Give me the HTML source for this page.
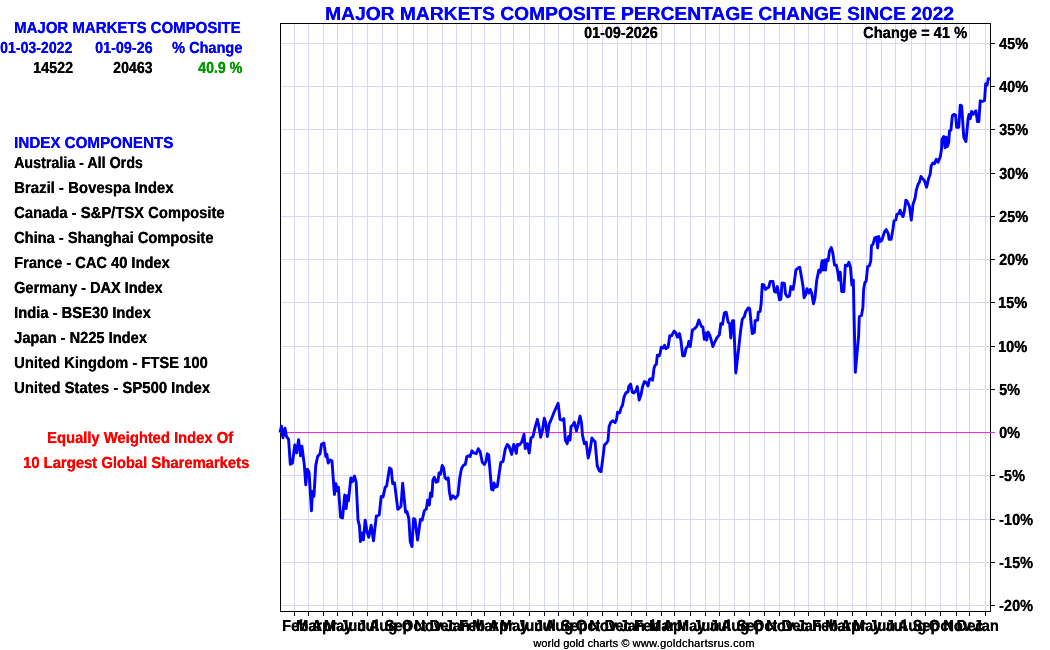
<!DOCTYPE html>
<html lang="en"><head><meta charset="utf-8"><title>Major Markets Composite Percentage Change Since 2022</title>
<style>
html,body{margin:0;padding:0;background:#fff;}
body{width:1050px;height:650px;position:relative;overflow:hidden;font-family:"Liberation Sans",sans-serif;font-weight:bold;color:#000;}
.t{position:absolute;white-space:pre;line-height:1;transform-origin:0 0;text-shadow:0.3px 0 0 currentColor;}
.xl{position:absolute;top:618.46px;width:60px;margin-left:-30px;text-align:center;font-size:16px;line-height:1;transform:scaleX(0.915) skewX(0.05deg);transform-origin:50% 0;text-shadow:0.3px 0 0 currentColor;}
svg{position:absolute;left:0;top:0;}
</style></head><body>

<svg width="1050" height="650" viewBox="0 0 1050 650">
<g stroke="#D6D6F5" stroke-width="1" shape-rendering="crispEdges">
<line x1="294.5" y1="24" x2="294.5" y2="611"/>
<line x1="308.5" y1="24" x2="308.5" y2="611"/>
<line x1="323.5" y1="24" x2="323.5" y2="611"/>
<line x1="337.5" y1="24" x2="337.5" y2="611"/>
<line x1="352.5" y1="24" x2="352.5" y2="611"/>
<line x1="367.5" y1="24" x2="367.5" y2="611"/>
<line x1="382.5" y1="24" x2="382.5" y2="611"/>
<line x1="397.5" y1="24" x2="397.5" y2="611"/>
<line x1="413.5" y1="24" x2="413.5" y2="611"/>
<line x1="427.5" y1="24" x2="427.5" y2="611"/>
<line x1="442.5" y1="24" x2="442.5" y2="611"/>
<line x1="456.5" y1="24" x2="456.5" y2="611"/>
<line x1="471.5" y1="24" x2="471.5" y2="611"/>
<line x1="484.5" y1="24" x2="484.5" y2="611"/>
<line x1="500.5" y1="24" x2="500.5" y2="611"/>
<line x1="513.5" y1="24" x2="513.5" y2="611"/>
<line x1="529.5" y1="24" x2="529.5" y2="611"/>
<line x1="544.5" y1="24" x2="544.5" y2="611"/>
<line x1="558.5" y1="24" x2="558.5" y2="611"/>
<line x1="573.5" y1="24" x2="573.5" y2="611"/>
<line x1="587.5" y1="24" x2="587.5" y2="611"/>
<line x1="602.5" y1="24" x2="602.5" y2="611"/>
<line x1="617.5" y1="24" x2="617.5" y2="611"/>
<line x1="631.5" y1="24" x2="631.5" y2="611"/>
<line x1="646.5" y1="24" x2="646.5" y2="611"/>
<line x1="661.5" y1="24" x2="661.5" y2="611"/>
<line x1="674.5" y1="24" x2="674.5" y2="611"/>
<line x1="690.5" y1="24" x2="690.5" y2="611"/>
<line x1="705.5" y1="24" x2="705.5" y2="611"/>
<line x1="719.5" y1="24" x2="719.5" y2="611"/>
<line x1="734.5" y1="24" x2="734.5" y2="611"/>
<line x1="749.5" y1="24" x2="749.5" y2="611"/>
<line x1="764.5" y1="24" x2="764.5" y2="611"/>
<line x1="779.5" y1="24" x2="779.5" y2="611"/>
<line x1="794.5" y1="24" x2="794.5" y2="611"/>
<line x1="808.5" y1="24" x2="808.5" y2="611"/>
<line x1="824.5" y1="24" x2="824.5" y2="611"/>
<line x1="837.5" y1="24" x2="837.5" y2="611"/>
<line x1="852.5" y1="24" x2="852.5" y2="611"/>
<line x1="866.5" y1="24" x2="866.5" y2="611"/>
<line x1="881.5" y1="24" x2="881.5" y2="611"/>
<line x1="895.5" y1="24" x2="895.5" y2="611"/>
<line x1="911.5" y1="24" x2="911.5" y2="611"/>
<line x1="925.5" y1="24" x2="925.5" y2="611"/>
<line x1="940.5" y1="24" x2="940.5" y2="611"/>
<line x1="956.5" y1="24" x2="956.5" y2="611"/>
<line x1="969.5" y1="24" x2="969.5" y2="611"/>
<line x1="985.5" y1="24" x2="985.5" y2="611"/>
<line x1="281" y1="605.5" x2="990" y2="605.5"/>
<line x1="281" y1="562.5" x2="990" y2="562.5"/>
<line x1="281" y1="519.5" x2="990" y2="519.5"/>
<line x1="281" y1="475.5" x2="990" y2="475.5"/>
<line x1="281" y1="389.5" x2="990" y2="389.5"/>
<line x1="281" y1="346.5" x2="990" y2="346.5"/>
<line x1="281" y1="302.5" x2="990" y2="302.5"/>
<line x1="281" y1="259.5" x2="990" y2="259.5"/>
<line x1="281" y1="216.5" x2="990" y2="216.5"/>
<line x1="281" y1="173.5" x2="990" y2="173.5"/>
<line x1="281" y1="129.5" x2="990" y2="129.5"/>
<line x1="281" y1="86.5" x2="990" y2="86.5"/>
<line x1="281" y1="43.5" x2="990" y2="43.5"/>
</g>
<rect x="280.5" y="23.5" width="710" height="588" stroke="#000" stroke-width="1" fill="none" shape-rendering="crispEdges"/>
<g stroke="#000" stroke-width="1" shape-rendering="crispEdges">
<line x1="294.5" y1="612" x2="294.5" y2="616"/>
<line x1="308.5" y1="612" x2="308.5" y2="616"/>
<line x1="323.5" y1="612" x2="323.5" y2="616"/>
<line x1="337.5" y1="612" x2="337.5" y2="616"/>
<line x1="352.5" y1="612" x2="352.5" y2="616"/>
<line x1="367.5" y1="612" x2="367.5" y2="616"/>
<line x1="382.5" y1="612" x2="382.5" y2="616"/>
<line x1="397.5" y1="612" x2="397.5" y2="616"/>
<line x1="413.5" y1="612" x2="413.5" y2="616"/>
<line x1="427.5" y1="612" x2="427.5" y2="616"/>
<line x1="442.5" y1="612" x2="442.5" y2="616"/>
<line x1="456.5" y1="612" x2="456.5" y2="616"/>
<line x1="471.5" y1="612" x2="471.5" y2="616"/>
<line x1="484.5" y1="612" x2="484.5" y2="616"/>
<line x1="500.5" y1="612" x2="500.5" y2="616"/>
<line x1="513.5" y1="612" x2="513.5" y2="616"/>
<line x1="529.5" y1="612" x2="529.5" y2="616"/>
<line x1="544.5" y1="612" x2="544.5" y2="616"/>
<line x1="558.5" y1="612" x2="558.5" y2="616"/>
<line x1="573.5" y1="612" x2="573.5" y2="616"/>
<line x1="587.5" y1="612" x2="587.5" y2="616"/>
<line x1="602.5" y1="612" x2="602.5" y2="616"/>
<line x1="617.5" y1="612" x2="617.5" y2="616"/>
<line x1="631.5" y1="612" x2="631.5" y2="616"/>
<line x1="646.5" y1="612" x2="646.5" y2="616"/>
<line x1="661.5" y1="612" x2="661.5" y2="616"/>
<line x1="674.5" y1="612" x2="674.5" y2="616"/>
<line x1="690.5" y1="612" x2="690.5" y2="616"/>
<line x1="705.5" y1="612" x2="705.5" y2="616"/>
<line x1="719.5" y1="612" x2="719.5" y2="616"/>
<line x1="734.5" y1="612" x2="734.5" y2="616"/>
<line x1="749.5" y1="612" x2="749.5" y2="616"/>
<line x1="764.5" y1="612" x2="764.5" y2="616"/>
<line x1="779.5" y1="612" x2="779.5" y2="616"/>
<line x1="794.5" y1="612" x2="794.5" y2="616"/>
<line x1="808.5" y1="612" x2="808.5" y2="616"/>
<line x1="824.5" y1="612" x2="824.5" y2="616"/>
<line x1="837.5" y1="612" x2="837.5" y2="616"/>
<line x1="852.5" y1="612" x2="852.5" y2="616"/>
<line x1="866.5" y1="612" x2="866.5" y2="616"/>
<line x1="881.5" y1="612" x2="881.5" y2="616"/>
<line x1="895.5" y1="612" x2="895.5" y2="616"/>
<line x1="911.5" y1="612" x2="911.5" y2="616"/>
<line x1="925.5" y1="612" x2="925.5" y2="616"/>
<line x1="940.5" y1="612" x2="940.5" y2="616"/>
<line x1="956.5" y1="612" x2="956.5" y2="616"/>
<line x1="969.5" y1="612" x2="969.5" y2="616"/>
<line x1="985.5" y1="612" x2="985.5" y2="616"/>
<line x1="991" y1="605.5" x2="995" y2="605.5"/>
<line x1="991" y1="562.5" x2="995" y2="562.5"/>
<line x1="991" y1="519.5" x2="995" y2="519.5"/>
<line x1="991" y1="475.5" x2="995" y2="475.5"/>
<line x1="991" y1="432.5" x2="995" y2="432.5"/>
<line x1="991" y1="389.5" x2="995" y2="389.5"/>
<line x1="991" y1="346.5" x2="995" y2="346.5"/>
<line x1="991" y1="302.5" x2="995" y2="302.5"/>
<line x1="991" y1="259.5" x2="995" y2="259.5"/>
<line x1="991" y1="216.5" x2="995" y2="216.5"/>
<line x1="991" y1="173.5" x2="995" y2="173.5"/>
<line x1="991" y1="129.5" x2="995" y2="129.5"/>
<line x1="991" y1="86.5" x2="995" y2="86.5"/>
<line x1="991" y1="43.5" x2="995" y2="43.5"/>
</g>
<line x1="280" y1="432.5" x2="995" y2="432.5" stroke="#F62AE2" stroke-width="1" shape-rendering="crispEdges"/>
<polyline points="280.01,432.46 281.44,426.16 282.87,437.9 285.02,428.17 286.45,436.47 288.6,439.33 290.31,464.38 292.46,462.95 294.75,445.06 296.47,452.93 298.62,439.62 300.48,455.79 301.91,446.2 304.34,465.1 305.77,484.85 307.2,469.1 309.06,472.25 311.5,510.79 312.5,491.47 313.93,496.48 315.79,465.1 317.65,456.51 320.09,453.65 321.52,444.34 323.95,442.91 325.81,456.51 326.81,454.36 328.24,462.95 330.1,460.09 331.97,460.8 334.4,494.44 335.83,483.6 336.98,490.75 338.41,487.18 340.55,517.23 342.56,517.95 344.7,495.05 346.14,508.65 347.28,495.76 348.43,500.77 350.86,477.87 352.58,481.45 354.44,476.01 356.15,482.17 358.02,520.1 359.45,525.82 360.45,541.56 362.31,532.98 363.45,539.85 365.17,520.1 367.03,531.55 368.75,537.27 371.18,525.1 373.47,540.85 376.34,515.8 379.2,515.09 381.2,496.48 383.06,496.91 385.21,487.18 386.64,486.03 389.5,467.96 391.22,469.1 392.65,483.6 394.51,482.88 397.81,509.36 400.95,506.5 402.67,483.17 405.53,512.22 406.97,511.51 408.83,518.66 410.26,541.56 411.98,546.57 413.55,518.66 414.98,519.38 417.58,540.15 420.44,519.4 422.16,520.11 424.3,510.81 426.45,508.66 427.6,500.08 429.31,505.09 430.46,492.92 431.89,496.5 432.89,480.04 434.32,477.18 436.18,482.19 437.9,481.47 439.05,472.88 440.48,474.31 442.19,465.44 443.63,467.87 445.06,477.89 446.77,479.32 448.21,477.89 449.35,491.49 450.78,499.36 452.93,495.78 455.36,498.36 457.94,495.07 459.66,478.61 461.52,468.59 463.66,465.01 465.38,464.29 466.81,456.55 468.67,455.83 470.1,456.55 471.97,450.82 473.68,452.97 476.26,453.68 478.26,448.67 480.12,451.54 482.27,462.27 484.42,464.42 486.14,460.84 487.28,453.68 488.71,455.11 490.86,480.88 491.57,489.34 493.01,490.06 494.01,482.9 495.44,487.19 497.3,486.48 499.45,471.45 500.88,462.27 503.02,461.56 505.17,449.39 507.32,444.38 509.18,446.53 511.61,454.4 513.76,444.38 516.34,453.4 517.34,444.38 519.2,445.1 521.63,442.23 524.06,434.36 525.21,448.67 527.36,443.66 529.22,452.97 530.94,437.94 533.08,436.51 534.94,427.92 537.38,419.33 538.81,425.77 540.67,437.22 542.39,430.78 544.25,418.19 545.53,422.19 547.4,436.51 549.26,423.63 550.69,420.76 552.4,416.47 554.98,410.03 558.13,403.3 560.01,419.34 562.16,420.06 563.87,418.63 565.31,440.1 567.17,443.67 568.6,436.52 570.03,440.1 571.03,426.5 572.89,425.07 574.32,422.2 576.47,430.79 578.19,424.35 580.05,416.05 581.48,422.92 582.48,435.09 584.34,443.67 586.2,442.24 588.21,457.99 590.07,450.11 591.93,437.95 593.36,440.1 595.08,441.53 597.22,465.86 599.37,470.87 601.09,471.58 602.95,457.27 604.38,445.1 606.53,442.96 607.96,440.81 609.1,426.5 610.82,422.2 612.97,420.77 615.11,422.63 616.55,419.34 617.55,412.19 619.69,412.9 621.13,407.89 622.56,405.03 623.99,397.16 625.85,392.86 628.0,391.72 628.71,386.58 630.57,384.15 632.29,392.31 633.72,393.02 635.87,390.88 637.3,386.58 639.16,400.02 640.88,395.17 642.6,386.58 644.46,381.57 646.6,383.01 648.03,385.87 649.47,379.43 651.18,378.71 652.61,380.14 654.05,367.98 655.19,365.11 656.34,364.4 657.34,355.1 659.2,355.81 660.2,352.95 661.2,347.22 663.06,347.94 664.49,345.36 665.93,348.65 668.07,347.22 669.79,335.77 671.65,335.77 674.08,331.05 675.94,332.91 677.38,337.2 679.52,333.63 680.95,340.78 682.67,355.81 684.53,355.81 685.96,348.65 688.11,345.79 688.83,341.5 690.26,346.51 692.4,330.05 694.55,328.62 696.7,326.47 698.85,320.03 701.44,326.5 702.87,326.93 704.3,339.38 705.73,332.94 706.74,340.1 708.17,332.22 710.03,335.8 712.89,346.54 715.04,341.53 717.19,337.23 719.33,335.09 720.76,323.64 722.48,324.35 724.34,312.9 726.2,312.19 728.21,322.2 729.64,323.64 730.78,337.95 732.5,320.77 733.65,320.77 735.79,373.02 738.65,348.68 740.52,331.51 742.23,319.34 744.38,316.48 745.81,311.47 748.24,307.89 749.68,308.61 752.25,333.65 754.4,332.22 755.11,320.77 757.69,320.06 758.26,312.19 760.12,311.47 761.13,303.6 762.27,284.42 763.99,285.13 765.42,289.43 767.28,288.0 768.71,287.28 770.14,281.56 773.01,281.56 774.44,291.57 775.87,292.29 777.3,286.56 779.45,299.73 780.88,299.16 782.02,282.99 784.46,283.42 785.46,293.72 787.32,296.87 789.47,295.87 790.9,286.56 793.04,289.43 794.05,283.7 795.91,270.1 798.05,267.96 799.77,267.24 801.63,277.98 803.06,286.56 804.06,297.73 805.5,295.15 806.93,288.71 808.79,293.01 810.22,289.43 811.65,293.01 813.51,303.74 814.94,298.02 816.66,280.84 818.81,270.1 820.24,272.25 822.1,260.8 823.1,270.1 824.53,260.09 825.53,270.1 826.68,259.37 828.11,260.8 829.54,250.78 831.26,247.63 832.69,252.21 834.55,265.1 836.41,265.1 837.84,272.25 838.85,280.12 840.28,272.25 841.71,291.57 843.85,291.57 843.87,291.57 845.31,265.1 847.17,265.81 848.88,262.23 850.46,267.24 851.89,285.13 853.32,280.12 853.89,307.18 855.32,372.3 858.62,335.8 859.33,316.48 861.48,315.48 862.91,307.18 863.63,289.43 864.77,282.99 866.2,280.84 867.63,266.53 869.35,265.81 870.78,260.8 871.5,245.77 872.93,244.34 874.79,237.9 876.51,237.19 877.65,247.92 878.65,236.47 880.52,241.48 881.95,240.05 884.38,232.18 886.24,229.6 888.24,233.61 889.1,239.33 891.11,239.33 892.97,229.31 893.97,220.73 895.83,220.01 896.83,214.43 898.69,213.71 900.12,210.13 901.56,214.43 902.99,216.57 904.42,210.85 905.85,200.11 907.28,201.55 909.43,206.56 911.29,220.15 913.01,204.41 915.15,197.97 916.3,190.1 918.02,184.37 919.45,182.22 920.88,176.5 922.6,178.65 924.46,180.79 926.6,187.23 928.75,177.93 930.18,174.35 931.18,165.76 933.04,162.9 934.48,163.62 936.34,159.32 938.05,162.19 940.2,157.18 941.63,148.59 941.89,139.43 943.75,136.56 945.18,147.73 946.18,137.28 947.33,146.58 948.76,142.29 949.48,130.84 950.91,130.12 952.34,115.81 953.77,114.38 955.63,115.1 956.63,127.26 958.78,127.26 960.21,105.08 961.64,105.79 963.79,137.28 965.94,141.57 968.08,118.67 969.08,114.38 970.23,118.67 971.66,111.52 973.38,114.38 974.52,112.23 975.95,110.8 977.39,121.54 978.82,121.54 980.25,100.78 982.4,101.5 984.54,100.5 985.69,83.61 987.12,85.04 988.26,78.74 989.84,78.74" fill="none" stroke="#0000FF" stroke-width="2.9" stroke-linejoin="round" stroke-linecap="butt"/>
</svg>
<div class="t" style="left:14.00px;top:20.46px;font-size:16.0px;color:#0000FF;transform:scaleX(0.9367) skewX(0.05deg);">MAJOR MARKETS COMPOSITE</div>
<div class="t" style="left:0.40px;top:40.46px;font-size:16.0px;color:#0000FF;transform:scaleX(0.8823) skewX(0.05deg);">01-03-2022</div>
<div class="t" style="left:95.40px;top:40.46px;font-size:16.0px;color:#0000FF;transform:scaleX(0.8964) skewX(0.05deg);">01-09-26</div>
<div class="t" style="left:171.70px;top:40.46px;font-size:16.0px;color:#0000FF;transform:scaleX(0.9077) skewX(0.05deg);">% Change</div>
<div class="t" style="left:32.60px;top:60.46px;font-size:16.0px;color:#000;transform:scaleX(0.8992) skewX(0.05deg);">14522</div>
<div class="t" style="left:113.40px;top:60.46px;font-size:16.0px;color:#000;transform:scaleX(0.8858) skewX(0.05deg);">20463</div>
<div class="t" style="left:198.00px;top:60.46px;font-size:16.0px;color:#009900;transform:scaleX(0.8873) skewX(0.05deg);">40.9 %</div>
<div class="t" style="left:14.00px;top:135.46px;font-size:16.0px;color:#0000FF;transform:scaleX(0.9475) skewX(0.05deg);">INDEX COMPONENTS</div>
<div class="t" style="left:14.00px;top:155.46px;font-size:16.0px;color:#000;transform:scaleX(0.8923) skewX(0.05deg);">Australia - All Ords</div>
<div class="t" style="left:14.00px;top:180.46px;font-size:16.0px;color:#000;transform:scaleX(0.9337) skewX(0.05deg);">Brazil - Bovespa Index</div>
<div class="t" style="left:14.00px;top:205.46px;font-size:16.0px;color:#000;transform:scaleX(0.9249) skewX(0.05deg);">Canada - S&amp;P/TSX Composite</div>
<div class="t" style="left:14.00px;top:230.46px;font-size:16.0px;color:#000;transform:scaleX(0.9151) skewX(0.05deg);">China - Shanghai Composite</div>
<div class="t" style="left:14.00px;top:255.46px;font-size:16.0px;color:#000;transform:scaleX(0.9163) skewX(0.05deg);">France - CAC 40 Index</div>
<div class="t" style="left:14.00px;top:280.46px;font-size:16.0px;color:#000;transform:scaleX(0.9077) skewX(0.05deg);">Germany - DAX Index</div>
<div class="t" style="left:14.00px;top:305.46px;font-size:16.0px;color:#000;transform:scaleX(0.9207) skewX(0.05deg);">India - BSE30 Index</div>
<div class="t" style="left:14.00px;top:330.46px;font-size:16.0px;color:#000;transform:scaleX(0.9163) skewX(0.05deg);">Japan - N225 Index</div>
<div class="t" style="left:14.00px;top:355.46px;font-size:16.0px;color:#000;transform:scaleX(0.9229) skewX(0.05deg);">United Kingdom - FTSE 100</div>
<div class="t" style="left:14.00px;top:380.46px;font-size:16.0px;color:#000;transform:scaleX(0.9296) skewX(0.05deg);">United States - SP500 Index</div>
<div class="t" style="left:47.48px;top:430.46px;font-size:16.0px;color:#FF0000;transform:scaleX(0.9231) skewX(0.05deg);">Equally Weighted Index Of</div>
<div class="t" style="left:23.48px;top:455.46px;font-size:16.0px;color:#FF0000;transform:scaleX(0.9247) skewX(0.05deg);">10 Largest Global Sharemarkets</div>
<div class="t" style="left:584.30px;top:25.46px;font-size:16.0px;color:#000;transform:scaleX(0.8994) skewX(0.05deg);">01-09-2026</div>
<div class="t" style="left:863.30px;top:25.46px;font-size:16.0px;color:#000;transform:scaleX(0.9174) skewX(0.05deg);">Change = 41 %</div>
<div class="t" style="left:324.99px;top:3.92px;font-size:19.0px;color:#0000FF;transform:scaleX(1.0118) skewX(0.05deg);">MAJOR MARKETS COMPOSITE PERCENTAGE CHANGE SINCE 2022</div>
<div class="t" style="left:998.90px;top:598.46px;font-size:16.0px;transform:scaleX(0.905) skewX(0.05deg);">-20%</div>
<div class="t" style="left:998.90px;top:555.46px;font-size:16.0px;transform:scaleX(0.905) skewX(0.05deg);">-15%</div>
<div class="t" style="left:998.90px;top:512.46px;font-size:16.0px;transform:scaleX(0.905) skewX(0.05deg);">-10%</div>
<div class="t" style="left:998.90px;top:468.46px;font-size:16.0px;transform:scaleX(0.905) skewX(0.05deg);">-5%</div>
<div class="t" style="left:998.90px;top:425.46px;font-size:16.0px;transform:scaleX(0.905) skewX(0.05deg);">0%</div>
<div class="t" style="left:998.90px;top:382.46px;font-size:16.0px;transform:scaleX(0.905) skewX(0.05deg);">5%</div>
<div class="t" style="left:998.00px;top:339.46px;font-size:16.0px;transform:scaleX(0.905) skewX(0.05deg);">10%</div>
<div class="t" style="left:998.00px;top:295.46px;font-size:16.0px;transform:scaleX(0.905) skewX(0.05deg);">15%</div>
<div class="t" style="left:998.90px;top:252.46px;font-size:16.0px;transform:scaleX(0.905) skewX(0.05deg);">20%</div>
<div class="t" style="left:998.90px;top:209.46px;font-size:16.0px;transform:scaleX(0.905) skewX(0.05deg);">25%</div>
<div class="t" style="left:998.90px;top:166.46px;font-size:16.0px;transform:scaleX(0.905) skewX(0.05deg);">30%</div>
<div class="t" style="left:998.90px;top:122.46px;font-size:16.0px;transform:scaleX(0.905) skewX(0.05deg);">35%</div>
<div class="t" style="left:998.90px;top:79.46px;font-size:16.0px;transform:scaleX(0.905) skewX(0.05deg);">40%</div>
<div class="t" style="left:998.90px;top:36.46px;font-size:16.0px;transform:scaleX(0.905) skewX(0.05deg);">45%</div>
<div class="xl" style="left:294.5px;">Feb</div>
<div class="xl" style="left:308.5px;">Mar</div>
<div class="xl" style="left:323.5px;">Apr</div>
<div class="xl" style="left:337.5px;">May</div>
<div class="xl" style="left:352.5px;">Jun</div>
<div class="xl" style="left:367.5px;">Jul</div>
<div class="xl" style="left:382.5px;">Aug</div>
<div class="xl" style="left:397.5px;">Sep</div>
<div class="xl" style="left:413.5px;">Oct</div>
<div class="xl" style="left:427.5px;">Nov</div>
<div class="xl" style="left:442.5px;">Dec</div>
<div class="xl" style="left:456.5px;">Jan</div>
<div class="xl" style="left:471.5px;">Feb</div>
<div class="xl" style="left:484.5px;">Mar</div>
<div class="xl" style="left:500.5px;">Apr</div>
<div class="xl" style="left:513.5px;">May</div>
<div class="xl" style="left:529.5px;">Jun</div>
<div class="xl" style="left:544.5px;">Jul</div>
<div class="xl" style="left:558.5px;">Aug</div>
<div class="xl" style="left:573.5px;">Sep</div>
<div class="xl" style="left:587.5px;">Oct</div>
<div class="xl" style="left:602.5px;">Nov</div>
<div class="xl" style="left:617.5px;">Dec</div>
<div class="xl" style="left:631.5px;">Jan</div>
<div class="xl" style="left:646.5px;">Feb</div>
<div class="xl" style="left:661.5px;">Mar</div>
<div class="xl" style="left:674.5px;">Apr</div>
<div class="xl" style="left:690.5px;">May</div>
<div class="xl" style="left:705.5px;">Jun</div>
<div class="xl" style="left:719.5px;">Jul</div>
<div class="xl" style="left:734.5px;">Aug</div>
<div class="xl" style="left:749.5px;">Sep</div>
<div class="xl" style="left:764.5px;">Oct</div>
<div class="xl" style="left:779.5px;">Nov</div>
<div class="xl" style="left:794.5px;">Dec</div>
<div class="xl" style="left:808.5px;">Jan</div>
<div class="xl" style="left:824.5px;">Feb</div>
<div class="xl" style="left:837.5px;">Mar</div>
<div class="xl" style="left:852.5px;">Apr</div>
<div class="xl" style="left:866.5px;">May</div>
<div class="xl" style="left:881.5px;">Jun</div>
<div class="xl" style="left:895.5px;">Jul</div>
<div class="xl" style="left:911.5px;">Aug</div>
<div class="xl" style="left:925.5px;">Sep</div>
<div class="xl" style="left:940.5px;">Oct</div>
<div class="xl" style="left:956.5px;">Nov</div>
<div class="xl" style="left:969.5px;">Dec</div>
<div class="xl" style="left:985.5px;">Jan</div>
<div class="t" style="left:533.2px;top:638.3px;font-size:11px;font-weight:normal;color:#000;text-shadow:0.2px 0 0 currentColor;letter-spacing:0.1px;">world gold charts ©</div>
<div class="t" style="left:632.6px;top:638.3px;font-size:11px;font-weight:normal;color:#000;text-shadow:0.2px 0 0 currentColor;letter-spacing:0.28px;">www.goldchartsrus.com</div>
</body></html>
